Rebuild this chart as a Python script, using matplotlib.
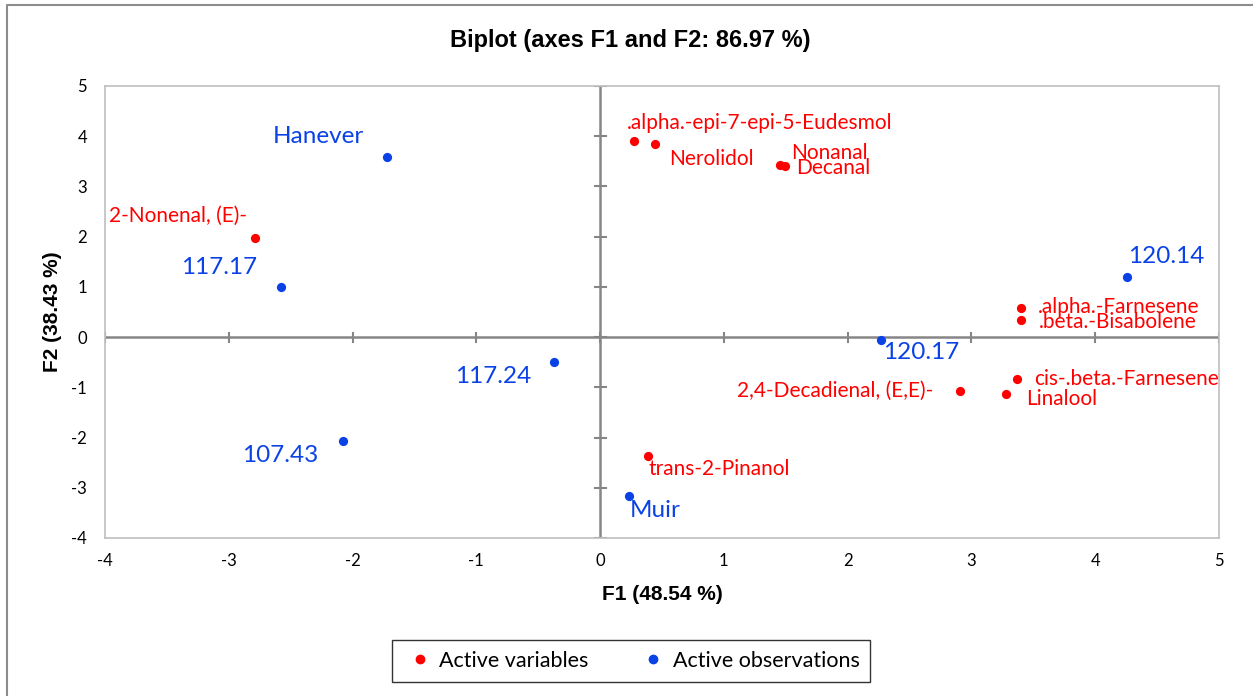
import numpy as np
import matplotlib
matplotlib.use('Agg')
import matplotlib.pyplot as plt
from matplotlib.lines import Line2D

plt.rcParams['axes.unicode_minus'] = False

# active variables (red)
var_names = ['2-Nonenal, (E)-', '.alpha.-epi-7-epi-5-Eudesmol', 'Nerolidol', 'Nonanal',
             'Decanal', '.alpha.-Farnesene', '.beta.-Bisabolene', 'cis-.beta.-Farnesene',
             'Linalool', '2,4-Decadienal, (E,E)-', 'trans-2-Pinanol']
var_f1 = [-2.79, 0.27, 0.44, 1.45, 1.49, 3.40, 3.40, 3.37, 3.28, 2.91, 0.39]
var_f2 = [1.97, 3.90, 3.84, 3.43, 3.41, 0.58, 0.34, -0.84, -1.14, -1.08, -2.37]

# active observations (blue)
obs_names = ['Hanever', '117.17', '117.24', '107.43', 'Muir', '120.17', '120.14']
obs_f1 = [-1.72, -2.58, -0.37, -2.08, 0.23, 2.27, 4.26]
obs_f2 = [3.59, 1.00, -0.50, -2.07, -3.17, -0.06, 1.20]

# label offsets in pixels (dx, dy, ha)
var_off = [(-8, 22, 'right'), (-7, 18, 'left'), (15, -15, 'left'), (12, 12, 'left'),
           (12, -2, 'left'), (17, 1, 'left'), (18, -2, 'left'), (17, 0, 'left'),
           (20, -5, 'left'), (-27, 0, 'right'), (0, -13, 'left')]
obs_off = [(-23, 20, 'right'), (-24, 19, 'right'), (-23, -14, 'right'), (-24, -14, 'right'),
           (1, -14, 'left'), (2, -12, 'left'), (1, 20, 'left')]

RED = '#ff0000'
BLUE = '#0a42e6'
label_font = 'Lato'

W, H = 1253, 696
fig = plt.figure(figsize=(W / 100, H / 100), dpi=100)
ax = fig.add_axes([105 / W, 1 - 538 / H, (1219 - 105) / W, (538 - 86) / H])

# outer frame (only left and top edges fall inside the image)
fig.add_artist(Line2D([7 / W, 7 / W, 1.0], [0.0, 1 - 5 / H, 1 - 5 / H],
                      transform=fig.transFigure, color='#8c8c8c', linewidth=1.5))

ax.set_xlim(-4, 5)
ax.set_ylim(-4, 5)
for s in ax.spines.values():
    s.set_color('#bfbfbf')
    s.set_linewidth(1.2)
ax.tick_params(length=0, labelsize=12, colors='black')
ax.tick_params(axis='x', pad=11)
ax.tick_params(axis='y', pad=13)
ax.set_xticks(range(-4, 6))
ax.set_yticks(range(-4, 6))
for lab in ax.get_xticklabels() + ax.get_yticklabels():
    lab.set_family(label_font)

# zero axes with cross ticks
ax.axhline(0, color='#868686', linewidth=1.8, zorder=1)
ax.axvline(0, color='#868686', linewidth=1.8, zorder=1)
tick_len_x = 0.045
tick_len_y = 0.09
for yv in range(-4, 6):
    ax.plot([-tick_len_x, tick_len_x], [yv, yv], color='#868686', linewidth=1.5, zorder=1)
for xv in range(-4, 6):
    ax.plot([xv, xv], [-tick_len_y, tick_len_y], color='#868686', linewidth=1.5, zorder=1)

ax.scatter(var_f1, var_f2, s=44, color=RED, zorder=3, linewidths=0)
ax.scatter(obs_f1, obs_f2, s=44, color=BLUE, zorder=3, linewidths=0)

for name, x, y, (dx, dy, ha) in zip(var_names, var_f1, var_f2, var_off):
    ax.annotate(name, (x, y), xytext=(dx * 0.72, dy * 0.72), textcoords='offset points',
                ha=ha, va='center', color=RED, fontsize=15, family=label_font)
for name, x, y, (dx, dy, ha) in zip(obs_names, obs_f1, obs_f2, obs_off):
    ax.annotate(name, (x, y), xytext=(dx * 0.72, dy * 0.72), textcoords='offset points',
                ha=ha, va='center', color=BLUE, fontsize=17.5, family=label_font)

fig.text(630 / W, 1 - 40 / H, 'Biplot (axes F1 and F2: 86.97 %)', ha='center', va='center',
         fontsize=17, fontweight='bold', family='Liberation Sans')
fig.text(662 / W, 1 - 595 / H, 'F1 (48.54 %)', ha='center', va='center',
         fontsize=15, fontweight='bold', family='Liberation Sans')
fig.text(52 / W, 1 - 312 / H, 'F2 (38.43 %)', ha='center', va='center', rotation=90,
         fontsize=15, fontweight='bold', family='Liberation Sans')

handles = [Line2D([], [], marker='o', linestyle='', color=RED, markersize=6),
           Line2D([], [], marker='o', linestyle='', color=BLUE, markersize=6)]
leg = fig.legend(handles, ['Active variables', 'Active observations'], loc='center',
                 bbox_to_anchor=(631 / W, 1 - 661 / H), ncol=2, frameon=True,
                 fancybox=False, edgecolor='black', prop={'family': label_font, 'size': 15.5},
                 handletextpad=0.1, columnspacing=2.2, borderpad=0.5, handlelength=1.6)
leg.get_frame().set_linewidth(1.0)

fig.savefig('out.png', dpi=100)
